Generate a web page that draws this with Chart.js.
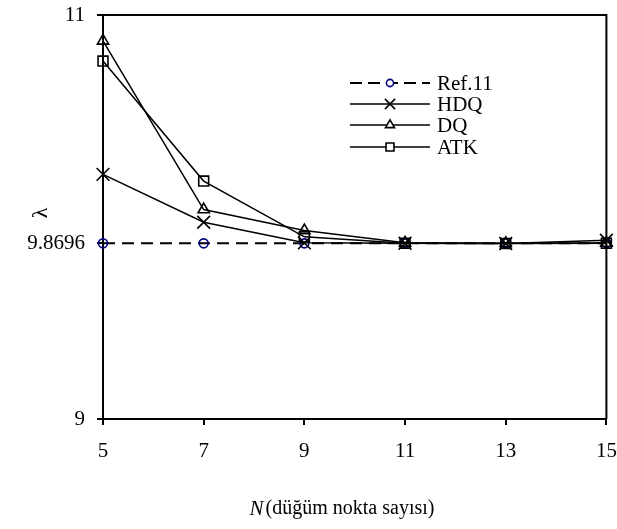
<!DOCTYPE html>
<html>
<head>
<meta charset="utf-8">
<script src="https://cdn.jsdelivr.net/npm/chart.js@4/dist/chart.umd.min.js"></script>
<style>
html,body{margin:0;padding:0;background:#fff;}
#wrap{width:617px;height:529px;position:relative;}
</style>
</head>
<body>
<div id="wrap"><canvas id="c" width="617" height="529"></canvas></div>
<script>
const nodes = [5, 7, 9, 11, 13, 15];
const ref11 = [9.8696, 9.8696, 9.8696, 9.8696, 9.8696, 9.8696];
const hdq = [10.211, 9.974, 9.872, 9.870, 9.869, 9.885];
const dq = [10.872, 10.037, 9.933, 9.872, 9.870, 9.871];
const atk = [10.772, 10.178, 9.902, 9.870, 9.869, 9.870];
const xTicks = [5, 7, 9, 11, 13, 15];
const yTicks = [9, 9.8696, 11];
const seriesNames = ['Ref.11', 'HDQ', 'DQ', 'ATK'];
const xTitleItalic = 'N';
const xTitleRest = '(düğüm nokta sayısı)';
const yTitle = 'λ';

const FONT = 'Liberation Serif, Times New Roman, serif';
const toPts = arr => nodes.map((x, i) => ({x: x, y: arr[i]}));

const styles = [
  {pointStyle: 'circle', radius: 4.5, color: '#000080', dash: [12, 7], width: 2},
  {pointStyle: 'crossRot', radius: 9, color: '#000', dash: [], width: 1.5},
  {pointStyle: 'triangle', radius: 6.5, color: '#000', dash: [], width: 1.5},
  {pointStyle: 'rect', radius: 7, color: '#000', dash: [], width: 1.5}
];
const seriesData = [ref11, hdq, dq, atk];

const datasets = seriesData.map((arr, i) => ({
  label: seriesNames[i],
  data: toPts(arr),
  borderColor: '#000',
  borderWidth: styles[i].width,
  borderDash: styles[i].dash,
  pointStyle: styles[i].pointStyle,
  pointRadius: styles[i].radius,
  pointBorderColor: styles[i].color,
  pointBorderWidth: 1.6,
  pointBackgroundColor: 'rgba(0,0,0,0)',
  fill: false,
  tension: 0,
  clip: false,
  order: 4 - i
}));

const decor = {
  id: 'decor',
  afterDraw(chart) {
    const ctx = chart.ctx;
    const a = chart.chartArea;
    ctx.save();
    // frame top & right
    ctx.strokeStyle = '#000';
    ctx.lineWidth = 2;
    ctx.beginPath();
    ctx.moveTo(a.left, a.top);
    ctx.lineTo(a.right, a.top);
    ctx.lineTo(a.right, a.bottom);
    ctx.stroke();

    // legend
    const lx0 = 350, lx1 = 430, tx = 437;
    const rows = [83, 104, 125, 147];
    ctx.font = '21px ' + FONT;
    ctx.textBaseline = 'middle';
    ctx.textAlign = 'left';
    rows.forEach((y, i) => {
      ctx.save();
      ctx.strokeStyle = '#000';
      ctx.lineWidth = styles[i].width;
      ctx.setLineDash(styles[i].dash.length ? [12, 6] : []);
      ctx.beginPath();
      ctx.moveTo(lx0, y);
      ctx.lineTo(lx1, y);
      ctx.stroke();
      ctx.restore();
      ctx.save();
      ctx.strokeStyle = styles[i].color;
      ctx.fillStyle = '#fff';
      ctx.lineWidth = 1.6;
      Chart.helpers.drawPoint(ctx, {pointStyle: styles[i].pointStyle, radius: styles[i].radius * 0.8, rotation: 0, borderWidth: 1.6}, (lx0 + lx1) / 2, y);
      ctx.restore();
      ctx.fillStyle = '#000';
      ctx.fillText(seriesNames[i], tx, y + 1);
    });

    // x title
    ctx.textBaseline = 'middle';
    ctx.font = 'italic 21px ' + FONT;
    const w1 = ctx.measureText(xTitleItalic).width;
    ctx.font = '20px ' + FONT;
    const w2 = ctx.measureText(xTitleRest).width;
    const cx = 342, cy = 509;
    const sx = cx - (w1 + w2 + 2) / 2;
    ctx.font = 'italic 21px ' + FONT;
    ctx.fillText(xTitleItalic, sx, cy);
    ctx.font = '20px ' + FONT;
    ctx.fillText(xTitleRest, sx + w1 + 2, cy);

    // y title
    ctx.translate(41, 213);
    ctx.rotate(-Math.PI / 2);
    ctx.textAlign = 'center';
    ctx.font = '22px ' + FONT;
    ctx.fillText(yTitle, 0, 0);
    ctx.restore();
  }
};

new Chart(document.getElementById('c'), {
  type: 'line',
  data: {datasets: datasets},
  options: {
    responsive: false,
    animation: false,
    layout: {padding: {top: 15, right: 10, left: 0, bottom: 0}},
    plugins: {legend: {display: false}, tooltip: {enabled: false}},
    scales: {
      x: {
        type: 'linear',
        min: 5, max: 15,
        afterBuildTicks: s => { s.ticks = xTicks.map(v => ({value: v})); },
        afterFit: s => { s.height = 110; s.paddingLeft = 0; s.paddingRight = 0; },
        grid: {display: true, drawOnChartArea: false, drawTicks: true, tickLength: 6, color: '#000', lineWidth: 2},
        border: {display: true, color: '#000', width: 2},
        ticks: {color: '#000', font: {family: FONT, size: 21}, padding: 14, maxRotation: 0, autoSkip: false, callback: v => String(v)}
      },
      y: {
        type: 'linear',
        min: 9, max: 11,
        afterBuildTicks: s => { s.ticks = yTicks.map(v => ({value: v})); },
        afterFit: s => { s.width = 103; s.paddingTop = 0; s.paddingBottom = 0; },
        grid: {display: true, drawOnChartArea: false, drawTicks: true, tickLength: 6, color: '#000', lineWidth: 2},
        border: {display: true, color: '#000', width: 2},
        ticks: {color: '#000', font: {family: FONT, size: 21}, padding: 12, autoSkip: false, callback: v => String(v)}
      }
    }
  },
  plugins: [decor]
});
</script>
</body>
</html>
